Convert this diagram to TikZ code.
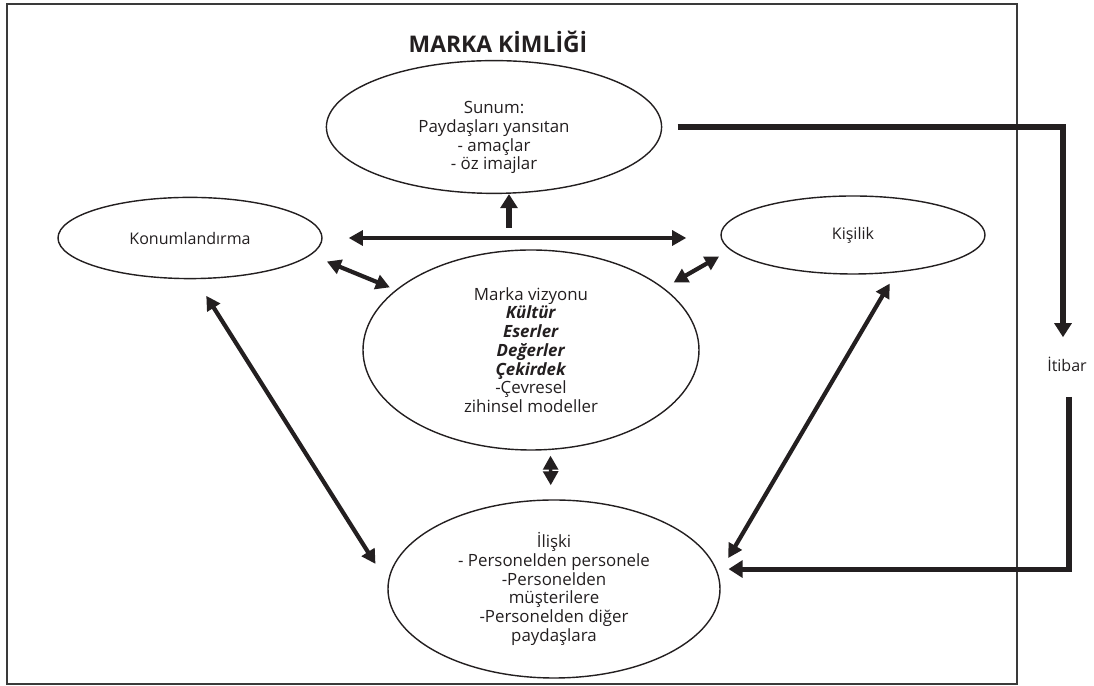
\documentclass[tikz,border=0pt]{standalone}
\usepackage{fontspec}
\setmainfont{Open Sans}
\usepackage{tikz}
\usetikzlibrary{arrows.meta, shapes.geometric}
\definecolor{kink}{HTML}{231F20}
\definecolor{kframe}{HTML}{3A3A3A}

\begin{document}
\begin{tikzpicture}[x=1cm, y=1cm,
  oval/.style={ellipse, draw=kink, line width=1pt, align=center, inner sep=0pt, text=kink},
  bodytext/.style={font=\fontsize{12}{13.3}\selectfont},
  smalltext/.style={font=\fontsize{11.4}{13}\selectfont},
  twoway/.style={draw=kink, line width=3pt, {Triangle[length=10pt,width=10.5pt]}-{Triangle[length=10pt,width=10.5pt]}},
  oneway/.style={draw=kink, line width=3.6pt, -{Triangle[length=10pt,width=12pt]}}]
\useasboundingbox (0,0) rectangle (27.35,17.15);
\draw[kframe, line width=1.4pt] (0.175,0.05) rectangle (25.425,17.05);
\node[font=\fontsize{16.3}{18}\selectfont\bfseries, text=kink] (title) at (12.45,16.1) {MARKA KİMLİĞİ};
% ellipses
\node[oval, bodytext, minimum width=8.38cm, minimum height=3.08cm] (sunum) at (12.35,13.975)
  {\rule{0pt}{24pt}Sunum:\\Paydaşları yansıtan\\- amaçlar\\- öz imajlar};
\node[oval, smalltext, minimum width=6.6cm, minimum height=2.03cm] (konum) at (4.75,11.2) {Konumlandırma};
\node[oval, smalltext, minimum width=6.6cm, minimum height=1.95cm] (kisilik) at (21.325,11.275) {Kişilik};
\node[oval, bodytext, minimum width=8.4cm, minimum height=5.0cm] (vizyon) at (13.275,8.4)
  {Marka vizyonu\\\textbf{\textit{Kültür}}\\\textbf{\textit{Eserler}}\\\textbf{\textit{Değerler}}\\\textbf{\textit{Çekirdek}}\\-Çevresel\\zihinsel modeller};
\node[oval, bodytext, minimum width=8.3cm, minimum height=4.45cm] (iliski) at (13.85,2.425)
  {İlişki\\- Personelden personele\\-Personelden\\müşterilere\\-Personelden diğer\\paydaşlara};
\node[smalltext, text=kink, inner sep=0pt] (itibar) at (26.675,8.05) {İtibar};
\coordinate (upfoot) at (12.725,11.45);
% arrows
\draw[oneway] (upfoot) -- (upfoot |- sunum.south);
\draw[twoway, shorten <=0.65cm, shorten >=0.85cm] (konum.east) -- (kisilik.west |- konum.east);
\draw[twoway, shorten <=0.43cm, shorten >=0.16cm] (konum.-8.3) -- (vizyon.156.7);
\draw[twoway, shorten <=0.28cm, shorten >=0.32cm] (vizyon.25.4) -- (kisilik.-173.8);
\draw[twoway, line width=2.6pt, shorten <=0.14cm, shorten >=0.35cm] (vizyon.-79.2) -- (iliski.92.6);
\draw[twoway, shorten <=0.49cm, shorten >=0.57cm] (konum.-82.1) -- (iliski.178.4);
\draw[twoway, shorten <=0.32cm, shorten >=0.48cm] (kisilik.-41.8) -- (iliski.5.5);
\draw[oneway, shorten <=0.38cm, shorten >=0.48cm] (sunum.east) -| ([xshift=-0.1cm]itibar.north);
\draw[oneway, shorten <=0.63cm, shorten >=0.3cm] ([xshift=0.05cm]itibar.south) |- (iliski.7.4);
\end{tikzpicture}
\end{document}
